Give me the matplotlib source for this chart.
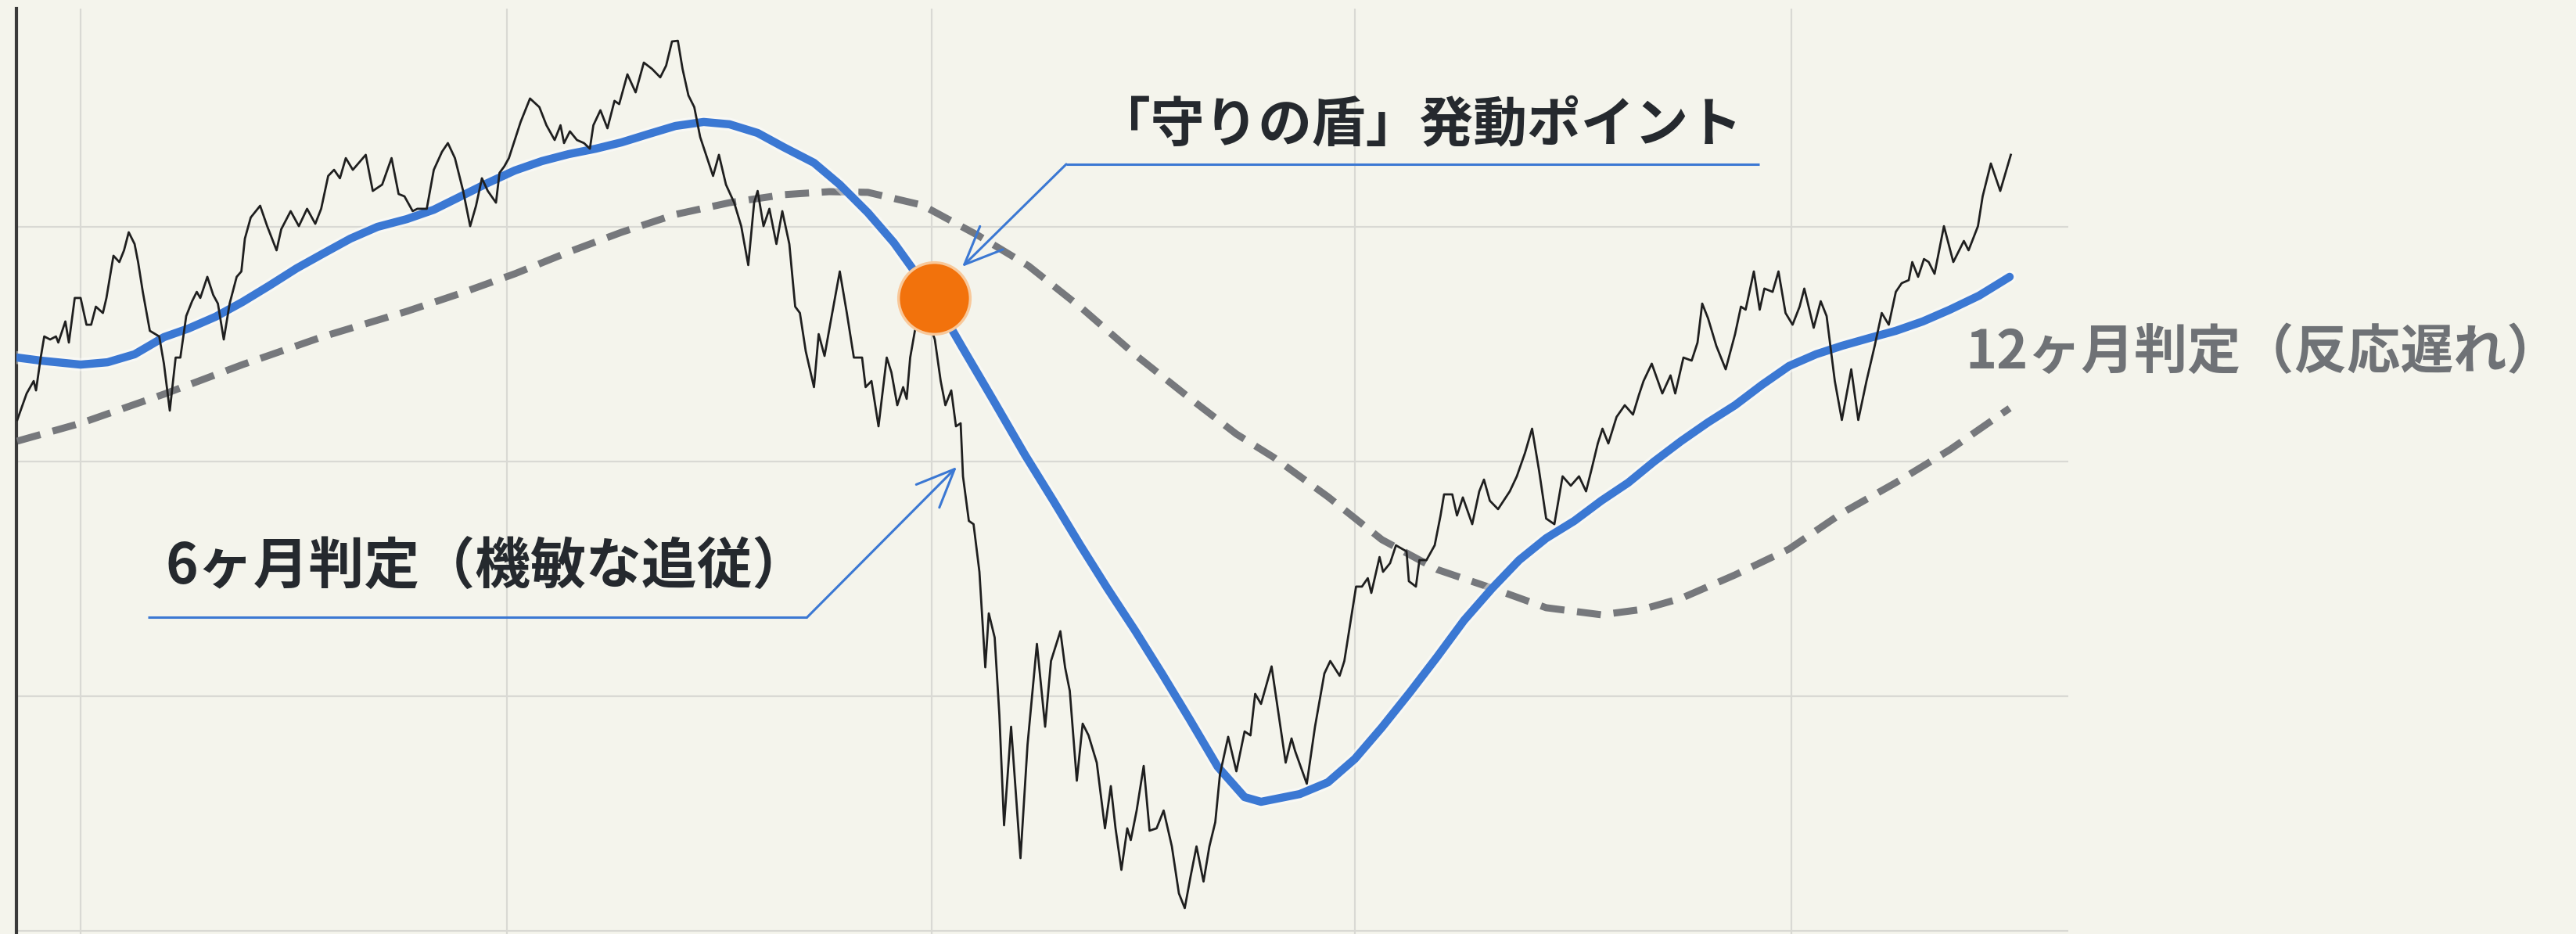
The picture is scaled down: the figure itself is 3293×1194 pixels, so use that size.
import matplotlib
matplotlib.use("Agg")
import matplotlib.pyplot as plt
import matplotlib.patheffects as pe

plt.rcParams['font.family'] = ['Noto Sans CJK JP', 'DejaVu Sans']

# ---------------- data (day index, price level) ----------------
price_day = [-54, -46, -40, -38, -34, -31, -26, -21, -19, -13, -10, -5, 0, 5, 9, 13, 19, 22, 28, 33,
             37, 41, 46, 49, 53, 59, 67, 71, 76, 81, 85, 90, 95, 99, 102, 108, 113, 117, 122, 127,
             133, 137, 140, 145, 153, 159, 167, 171, 179, 186, 193, 200, 205, 211, 216, 221, 226, 232, 243, 249,
             257, 265, 271, 276, 283, 287, 295, 301, 308, 313, 319, 326, 332, 337, 342, 347, 354, 357, 361, 365,
             375, 383, 391, 397, 404, 409, 412, 417, 423, 429, 434, 437, 443, 449, 455, 459, 466, 473, 480, 487,
             494, 499, 504, 509, 513, 518, 523, 528, 534, 539, 544, 550, 557, 563, 569, 574, 577, 582, 587, 593,
             598, 604, 609, 613, 618, 625, 629, 634, 639, 647, 653, 659, 666, 669, 674, 680, 687, 691, 696, 701,
             704, 707, 711, 719, 728, 733, 737, 742, 746, 750, 752, 757, 761, 766, 771, 774, 779, 783, 787, 793,
             801, 807, 815, 822, 827, 835, 839, 843, 849, 854, 859, 866, 873, 878, 882, 887, 892, 895, 900, 906,
             911, 917, 923, 930, 936, 941, 946, 951, 957, 962, 967, 971, 978, 985, 992, 997, 1001, 1006, 1015, 1027,
             1032, 1035, 1045, 1052, 1060, 1065, 1073, 1077, 1081, 1087, 1092, 1097, 1100, 1107, 1110, 1116, 1121, 1130, 1132, 1138,
             1141, 1147, 1154, 1159, 1162, 1169, 1173, 1178, 1186, 1192, 1196, 1201, 1208, 1218, 1224, 1231, 1237, 1243, 1249, 1256,
             1263, 1270, 1277, 1283, 1288, 1293, 1297, 1302, 1309, 1316, 1323, 1328, 1332, 1339, 1348, 1355, 1359, 1366, 1373, 1378,
             1382, 1387, 1394, 1402, 1410, 1415, 1419, 1426, 1431, 1435, 1442, 1447, 1453, 1459, 1465, 1469, 1477, 1483, 1488, 1495,
             1501, 1509, 1515, 1522, 1529, 1535, 1541, 1547, 1552, 1558, 1561, 1566, 1571, 1575, 1580, 1588, 1596, 1601, 1605, 1609,
             1617, 1621, 1628, 1636, 1645]
price_val = [217.7, 229.0, 234.3, 230.3, 244.3, 253.3, 252.0, 253.3, 250.7, 259.7, 250.7, 269.7, 269.7, 258.3, 258.3, 266.0, 263.3, 269.7, 287.7, 285.0,
             290.0, 297.7, 292.7, 285.0, 272.3, 255.7, 253.3, 241.7, 221.7, 244.3, 244.3, 262.0, 268.3, 272.3, 269.7, 278.7, 271.0, 267.3, 252.0, 267.3,
             278.7, 281.0, 295.0, 304.0, 309.0, 300.3, 290.0, 299.0, 306.7, 300.3, 307.7, 301.3, 307.7, 321.7, 324.3, 320.7, 329.3, 324.3, 330.7, 315.3,
             318.0, 329.3, 314.0, 313.0, 306.7, 307.7, 307.7, 324.3, 332.0, 335.7, 329.3, 315.3, 300.3, 309.0, 320.7, 315.3, 310.3, 323.0, 325.7, 329.3,
             344.7, 354.7, 351.0, 343.3, 337.0, 343.3, 335.7, 340.7, 337.0, 335.7, 333.3, 343.3, 349.7, 342.0, 353.7, 352.3, 365.0, 357.3, 370.0, 367.3,
             363.7, 368.7, 379.0, 379.3, 367.3, 356.0, 351.0, 338.3, 329.3, 321.7, 330.7, 318.0, 310.3, 300.3, 283.7, 310.3, 315.3, 300.3, 307.7, 292.7,
             306.7, 292.7, 266.0, 263.3, 247.0, 231.7, 254.3, 245.0, 259.0, 281.0, 263.3, 244.3, 244.3, 231.7, 234.3, 215.0, 244.3, 238.0, 224.0, 231.7,
             226.7, 244.3, 255.7, 265.0, 252.0, 234.3, 224.0, 230.3, 215.0, 216.3, 193.7, 174.7, 173.3, 153.0, 112.3, 135.3, 125.0, 92.0, 45.0, 87.0,
             31.0, 79.3, 122.3, 87.0, 115.0, 127.7, 112.3, 102.3, 64.0, 88.3, 83.3, 71.7, 43.7, 61.7, 43.7, 26.0, 43.7, 38.7, 51.3, 70.3,
             42.7, 43.7, 51.3, 36.0, 16.0, 9.7, 23.3, 36.0, 21.0, 36.0, 46.3, 66.7, 82.7, 68.0, 85.0, 83.3, 101.0, 96.7, 112.7, 71.7,
             82.0, 76.7, 62.7, 87.0, 109.7, 115.0, 108.7, 115.0, 127.7, 146.7, 146.7, 150.3, 144.0, 159.3, 153.0, 156.7, 164.3, 161.7, 149.0, 146.7,
             158.0, 158.0, 164.3, 177.0, 186.0, 186.0, 177.0, 184.7, 173.3, 187.3, 192.3, 183.3, 179.7, 187.3, 193.7, 203.7, 214.0, 196.0, 175.7, 173.3,
             193.7, 189.7, 193.7, 187.3, 197.3, 207.7, 214.0, 207.7, 219.0, 224.0, 220.0, 228.3, 234.3, 241.7, 229.0, 236.7, 229.0, 244.3, 243.0, 250.7,
             267.3, 261.0, 249.3, 239.3, 254.3, 266.0, 264.7, 281.0, 264.7, 273.7, 272.3, 281.0, 263.3, 258.3, 266.0, 273.7, 257.0, 268.3, 262.0, 234.3,
             217.7, 239.3, 217.7, 234.3, 249.3, 263.3, 258.3, 272.3, 276.0, 277.3, 285.0, 278.7, 286.3, 285.0, 280.0, 300.3, 285.0, 290.0, 294.0, 290.0,
             300.3, 313.0, 327.0, 315.3, 330.7]

ma6_day = [-54, -34, 0, 23, 46, 71, 92, 115, 138, 161, 184, 207, 230, 253, 278, 301, 324, 347, 370, 393,
           416, 439, 461, 485, 507, 531, 553, 577, 599, 625, 647, 671, 693, 727, 751, 778, 805, 829, 852, 875,
           899, 922, 945, 969, 992, 1006, 1039, 1063, 1086, 1109, 1133, 1156, 1179, 1203, 1226, 1249, 1273, 1296, 1319, 1341,
           1364, 1387, 1410, 1433, 1456, 1479, 1501, 1525, 1547, 1570, 1593, 1618, 1644]
ma6_val = [244.3, 243.0, 241.3, 242.3, 245.7, 253.0, 256.7, 261.7, 268.0, 275.0, 282.3, 288.7, 295.0, 300.0, 303.3, 307.3, 313.0, 318.7, 324.0, 328.0,
           331.0, 333.3, 336.0, 339.7, 343.0, 344.7, 343.7, 340.0, 334.0, 327.3, 318.0, 306.0, 293.3, 269.7, 249.0, 226.0, 202.7, 183.3, 164.3, 146.0,
           127.7, 109.3, 90.3, 70.0, 57.0, 55.0, 58.3, 63.3, 73.3, 86.7, 101.7, 116.7, 132.3, 146.0, 158.0, 167.3, 174.7, 183.3, 191.0, 200.0,
           208.7, 216.7, 224.0, 232.7, 240.7, 245.7, 249.3, 252.7, 255.7, 259.7, 264.7, 270.7, 278.7]

ma12_day = [-54, 0, 71, 138, 207, 278, 324, 370, 416, 461, 507, 553, 599, 638, 671, 717, 765, 808, 854, 900,
            946, 985, 1017, 1063, 1109, 1156, 1203, 1249, 1296, 1331, 1364, 1410, 1456, 1501, 1547, 1593, 1644]
ma12_val = [208.7, 216.3, 228.7, 241.3, 253.3, 264.0, 271.7, 280.0, 289.3, 297.7, 305.3, 310.3, 313.7, 315.0, 314.7, 309.3, 296.3, 283.3, 265.0, 245.0,
            226.7, 211.7, 201.7, 185.0, 166.7, 154.0, 146.0, 137.7, 134.7, 137.0, 141.7, 151.7, 162.7, 178.0, 191.0, 205.0, 222.7]

year_marks = [0, 363, 725, 1086, 1458]
level_marks = [0, 100, 200, 300]

signal_day = 727
signal_val = 269.7

label_shield = "「守りの盾」発動ポイント"
label_6m = "6ヶ月判定（機敏な追従）"
label_12m = "12ヶ月判定（反応遅れ）"

# ---------------- style ----------------
BG = '#f4f4ec'
GRID = '#d9d9d4'
BLUE = '#3b78d3'
GRAY = '#76787c'
INK = '#25292e'
ORANGE = '#f2720c'

fig = plt.figure(figsize=(32.93, 11.94), dpi=100, facecolor=BG)
ax = fig.add_axes([21 / 3293, 0.0, 2623 / 3293, 1183 / 1194])
ax.set_facecolor(BG)
ax.set_xlim(-54.7, 1694)
ax.set_ylim(-1.33, 393)

ax.set_xticks(year_marks)
ax.set_yticks(level_marks)
ax.grid(True, color=GRID, lw=1.6)
ax.set_axisbelow(True)
ax.tick_params(length=0, labelbottom=False, labelleft=False)
for s in ['top', 'right', 'bottom']:
    ax.spines[s].set_visible(False)
ax.spines['left'].set_color('#3a3a3a')
ax.spines['left'].set_linewidth(3)

# 12-month (dashed)
ax.plot(ma12_day, ma12_val, color=GRAY, lw=6.5, ls=(0, (3.4, 1.8)),
        dash_capstyle='butt', zorder=3)
# 6-month (blue)
ax.plot(ma6_day, ma6_val, color=BLUE, lw=7.5, solid_capstyle='round', zorder=4,
        path_effects=[pe.Stroke(linewidth=12, foreground='white', alpha=0.45), pe.Normal()])
# price
ax.plot(price_day, price_val, color='#1f1f1f', lw=2.0, zorder=5)

# signal point
ax.scatter([signal_day], [signal_val], s=66 ** 2, color=ORANGE,
           edgecolors='#f8c89a', linewidths=2.5, zorder=7)

ARROW = '->,head_length=3.5,head_width=1.5'

# annotation 1
ax.plot([1430.7, 840], [326.7, 326.7], color=BLUE, lw=2.2, zorder=6,
        solid_capstyle='butt')
ax.annotate('', xy=(751.3, 283), xytext=(840, 326.7),
            arrowprops=dict(arrowstyle=ARROW, mutation_scale=10, color=BLUE, lw=2.2,
                            shrinkA=0, shrinkB=0), zorder=6)
ax.text(866, 343, label_shield, fontsize=49.5, fontweight='bold', color=INK,
        ha='left', va='center', zorder=8)

# annotation 2
ax.plot([57.3, 619.3], [133.7, 133.7], color=BLUE, lw=2.2, zorder=6,
        solid_capstyle='butt')
ax.annotate('', xy=(746.7, 197.7), xytext=(619.3, 133.7),
            arrowprops=dict(arrowstyle=ARROW, mutation_scale=10, color=BLUE, lw=2.2,
                            shrinkA=0, shrinkB=0), zorder=6)
ax.text(72, 154.7, label_6m, fontsize=51, fontweight='bold', color=INK,
        ha='left', va='center', zorder=8)

# label 3
ax.text(1606, 246.3, label_12m, fontsize=49, fontweight='bold', color='#6f7276',
        ha='left', va='center', zorder=8, clip_on=False)

fig.savefig('out.png', dpi=100, facecolor=BG)
